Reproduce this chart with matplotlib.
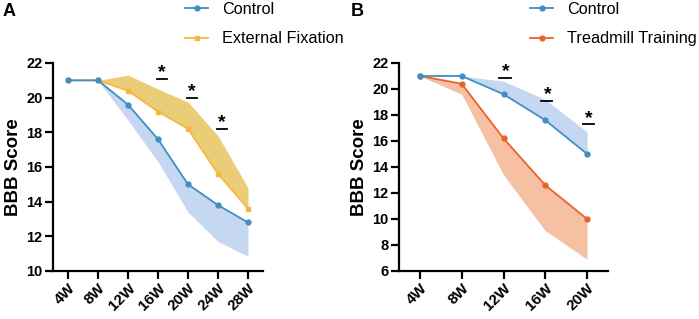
import numpy as np
import matplotlib.pyplot as plt

plt.rcParams['font.family'] = ['Liberation Sans', 'DejaVu Sans']

# ==============================================================================
# data
weeks_a = ["4W", "8W", "12W", "16W", "20W", "24W", "28W"]
control_a = [21.0, 21.0, 19.6, 17.6, 15.0, 13.8, 12.8]
control_a_low = [21.0, 21.0, 18.7, 16.3, 13.4, 11.7, 10.85]
fixation_a = [21.0, 21.0, 20.4, 19.2, 18.2, 15.6, 13.6]
fixation_a_high = [21.0, 21.0, 21.3, 20.5, 19.75, 17.8, 14.8]
signif_a = ["16W", "20W", "24W"]
signif_a_y = [21.1, 20.0, 18.2]

weeks_b = ["4W", "8W", "12W", "16W", "20W"]
control_b = [21.0, 21.0, 19.6, 17.6, 15.0]
control_b_high = [21.0, 21.0, 20.6, 19.2, 16.7]
treadmill_b = [21.0, 20.4, 16.2, 12.6, 10.0]
treadmill_b_low = [21.0, 19.6, 13.4, 9.1, 6.9]
signif_b = ["12W", "16W", "20W"]
signif_b_y = [20.87, 19.1, 17.3]

BLUE = "#3f8fc6"
BLUE_FILL = "#c6d8f1"
YELLOW = "#f5b73f"
YELLOW_FILL = "#ebcd78"
ORANGE = "#e8632b"
ORANGE_FILL = "#f6c0a3"


# ==============================================================================
def style_axis(ax, labels, ylim, yticks):
    x = np.arange(len(labels))
    ax.set_xlim(-0.5, len(labels) - 0.5)
    ax.set_ylim(*ylim)
    ax.set_yticks(yticks)
    ax.set_xticks(x)
    ax.set_xticklabels(labels, rotation=45, ha="right", rotation_mode="anchor",
                       fontsize=11, fontweight="bold")
    for lab in ax.get_yticklabels():
        lab.set_fontsize(10.5)
        lab.set_fontweight("bold")
    for side in ["top", "right"]:
        ax.spines[side].set_visible(False)
    for side in ["left", "bottom"]:
        ax.spines[side].set_linewidth(1.6)
    ax.tick_params(width=1.6, length=6, pad=1.5)
    ax.set_ylabel("BBB Score", fontsize=13.5, fontweight="bold", labelpad=3)


def add_stars(ax, labels, marks, ys, span, star_dx, star_dy):
    for m, y in zip(marks, ys):
        i = labels.index(m)
        ax.plot([i + span[0], i + span[1]], [y, y], color="black", lw=1.3)
        ax.text(i + star_dx, y + star_dy, "*", ha="center", va="bottom",
                fontsize=14, fontweight="bold")


def add_legend(ax, x0):
    h, l = ax.get_legend_handles_labels()
    fig.legend(h[::-1], l[::-1], loc="upper left",
               bbox_to_anchor=(x0 / 699, 1 - 2 / 319),
               frameon=False, fontsize=11.7, handlelength=1.42, handletextpad=0.86,
               labelspacing=0.88, borderpad=0, borderaxespad=0)


fig = plt.figure(figsize=(6.99, 3.19), dpi=100)

# ---- panel A
axA = fig.add_axes([53 / 699, 1 - 271 / 319, 210 / 699, 208 / 319])
xa = np.arange(len(weeks_a))
axA.fill_between(xa, fixation_a, fixation_a_high, color=YELLOW_FILL, lw=0)
axA.fill_between(xa, control_a_low, control_a, color=BLUE_FILL, lw=0)
axA.plot(xa, fixation_a, color=YELLOW, lw=1.3, marker="s", ms=3.5,
         label="External Fixation")
axA.plot(xa, control_a, color=BLUE, lw=1.3, marker="o", ms=3.5, label="Control")
style_axis(axA, weeks_a, (10, 22), np.arange(10, 23, 2))
add_stars(axA, weeks_a, signif_a, signif_a_y, (-0.04, 0.31), 0.13, -0.15)
add_legend(axA, 185)
fig.text(3 / 699, 1 - 3 / 319, "A", fontsize=13, fontweight="bold", va="top")

# ---- panel B
axB = fig.add_axes([399 / 699, 1 - 271 / 319, 209 / 699, 208 / 319])
xb = np.arange(len(weeks_b))
axB.fill_between(xb, treadmill_b_low, treadmill_b, color=ORANGE_FILL, lw=0)
axB.fill_between(xb, control_b, control_b_high, color=BLUE_FILL, lw=0)
axB.plot(xb, treadmill_b, color=ORANGE, lw=1.3, marker="o", ms=3.5,
         label="Treadmill Training")
axB.plot(xb, control_b, color=BLUE, lw=1.3, marker="o", ms=3.5, label="Control")
style_axis(axB, weeks_b, (6, 22), np.arange(6, 23, 2))
add_stars(axB, weeks_b, signif_b, signif_b_y, (-0.1, 0.17), 0.05, -0.2)
add_legend(axB, 530)
fig.text(351 / 699, 1 - 3 / 319, "B", fontsize=13, fontweight="bold", va="top")

fig.savefig("out.png", dpi=100)
